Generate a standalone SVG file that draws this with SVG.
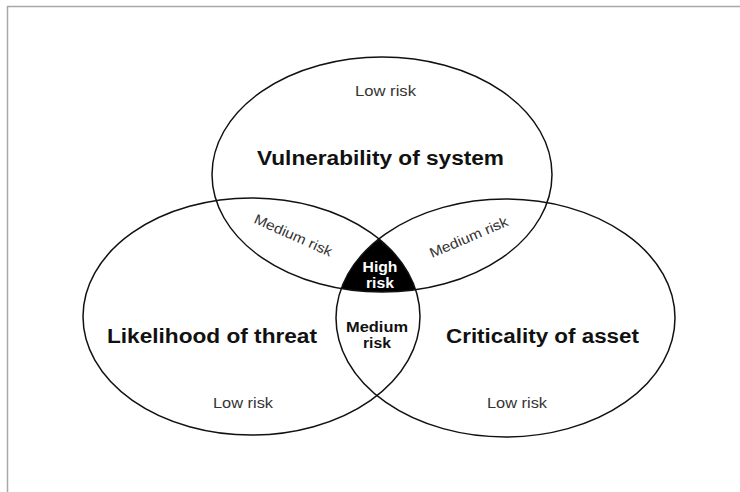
<svg xmlns="http://www.w3.org/2000/svg" width="740" height="492" viewBox="0 0 740 492">
  <style>
    .ring { fill: none; stroke: #111; stroke-width: 1.5; }
    .title { font-family: "Liberation Sans", Arial, sans-serif; font-weight: bold; font-size: 20px; fill: #111; text-anchor: middle; }
    .low { font-family: "Liberation Sans", Arial, sans-serif; font-size: 14px; fill: #333; text-anchor: middle; }
    .med { font-family: "Liberation Sans", Arial, sans-serif; font-size: 14px; fill: #333; text-anchor: middle; }
    .core { font-family: "Liberation Sans", Arial, sans-serif; font-weight: bold; font-size: 14.5px; text-anchor: middle; }
  </style>
  <defs>
    <clipPath id="clipLeft"><ellipse cx="251.5" cy="316.5" rx="168.5" ry="118.5"/></clipPath>
    <clipPath id="clipRight"><ellipse cx="505.5" cy="318" rx="169.5" ry="119"/></clipPath>
  </defs>
  <rect x="0" y="0" width="740" height="492" fill="#ffffff"/>
  <g id="frame">
    <line x1="7" y1="6.5" x2="740" y2="6.5" stroke="#a8a8a8" stroke-width="1.5"/>
    <line x1="7.5" y1="6" x2="7.5" y2="492" stroke="#a8a8a8" stroke-width="1.5"/>
  </g>
  <g id="high-risk-region" clip-path="url(#clipLeft)">
    <ellipse cx="382" cy="174.5" rx="170" ry="117.5" fill="#000" clip-path="url(#clipRight)"/>
  </g>
  <g id="vulnerability">
    <ellipse class="ring" cx="382" cy="174.5" rx="170" ry="117.5"/>
    <text class="low" x="385.5" y="96" textLength="61" lengthAdjust="spacingAndGlyphs">Low risk</text>
    <text class="title" x="380.5" y="165" textLength="247" lengthAdjust="spacingAndGlyphs">Vulnerability of system</text>
  </g>
  <g id="likelihood">
    <ellipse class="ring" cx="251.5" cy="316.5" rx="168.5" ry="118.5"/>
    <text class="title" x="212" y="343" textLength="210" lengthAdjust="spacingAndGlyphs">Likelihood of threat</text>
    <text class="low" x="243" y="408" textLength="60" lengthAdjust="spacingAndGlyphs">Low risk</text>
  </g>
  <g id="criticality">
    <ellipse class="ring" cx="505.5" cy="318" rx="169.5" ry="119"/>
    <text class="title" x="542.5" y="343" textLength="193" lengthAdjust="spacingAndGlyphs">Criticality of asset</text>
    <text class="low" x="517" y="408" textLength="60" lengthAdjust="spacingAndGlyphs">Low risk</text>
  </g>
  <g id="medium-left">
    <text class="med" x="293" y="240" transform="rotate(24 293 236)" textLength="84" lengthAdjust="spacingAndGlyphs">Medium risk</text>
  </g>
  <g id="medium-right">
    <text class="med" x="469" y="242" transform="rotate(-23 469 238)" textLength="84" lengthAdjust="spacingAndGlyphs">Medium risk</text>
  </g>
  <g id="high-risk">
    <text class="core" x="380" y="272" fill="#fff" textLength="35" lengthAdjust="spacingAndGlyphs">High</text>
    <text class="core" x="380" y="288" fill="#fff" textLength="28" lengthAdjust="spacingAndGlyphs">risk</text>
  </g>
  <g id="medium-bottom">
    <text class="core" x="377" y="332" fill="#111" textLength="62" lengthAdjust="spacingAndGlyphs">Medium</text>
    <text class="core" x="377" y="348" fill="#111" textLength="28" lengthAdjust="spacingAndGlyphs">risk</text>
  </g>
</svg>
